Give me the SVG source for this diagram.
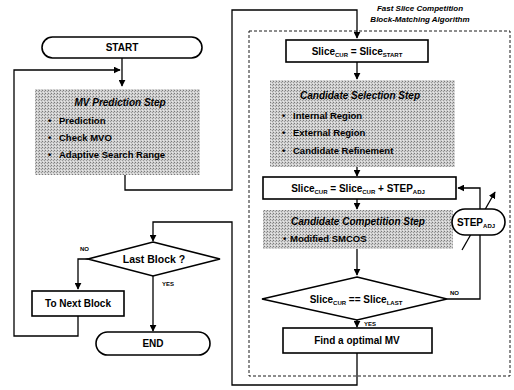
<svg xmlns="http://www.w3.org/2000/svg" width="514" height="390" viewBox="0 0 514 390">
<style>
text{font-family:"Liberation Sans",Arial,sans-serif;font-weight:bold;fill:#000}
.box{fill:#fff;stroke:#000;stroke-width:1.6}
.gray{stroke:none}
.ln{fill:none;stroke:#000;stroke-width:1.3}
.dash{fill:none;stroke:#000;stroke-width:0.9;stroke-dasharray:3 2}
.t{font-size:10px;text-anchor:middle}
.ti{font-size:10px;font-style:italic;text-anchor:middle}
.b{font-size:9.5px}
.s{font-size:6px}
.lbl{font-size:6px}
</style>
<defs>
<marker id="ah" viewBox="0 0 10 10" refX="9" refY="5" markerWidth="7" markerHeight="7" markerUnits="userSpaceOnUse" orient="auto"><path d="M0,0L10,5L0,10z" fill="#000"/></marker>
<pattern id="dots" width="3" height="3" patternUnits="userSpaceOnUse"><rect width="3" height="3" fill="#cfcfcf"/><rect x="0" y="0" width="1" height="1" fill="#7a7a7a"/><rect x="2" y="1" width="1" height="1" fill="#9a9a9a"/><rect x="1" y="2" width="1" height="1" fill="#e8e8e8"/></pattern>
</defs>

<rect class="dash" x="249" y="31" width="261" height="345"/>
<text class="ti" x="420" y="11" style="font-size:8px">Fast Slice Competition</text>
<text class="ti" x="420" y="22" style="font-size:8px">Block-Matching Algorithm</text>

<g id="connectors">
<path class="ln" d="M122,58V86" marker-end="url(#ah)"/>
<path class="ln" d="M78,316V336H14V70H120" marker-end="url(#ah)"/>
<path class="ln" d="M125,175V190H232V10H357V38" marker-end="url(#ah)"/>
<path class="ln" d="M357,62V79" marker-end="url(#ah)"/>
<path class="ln" d="M357,167V176" marker-end="url(#ah)"/>
<path class="ln" d="M357,199V209" marker-end="url(#ah)"/>
<path class="ln" d="M357,249V275" marker-end="url(#ah)"/>
<path class="ln" d="M357,320V327" marker-end="url(#ah)"/>
<path class="ln" d="M447,299H480V188H458" marker-end="url(#ah)"/>
<path class="ln" d="M462,250L495,192" marker-end="url(#ah)"/>
<path class="ln" d="M357,353V385H232V222H153V241" marker-end="url(#ah)"/>
<path class="ln" d="M88,259H78V289" marker-end="url(#ah)"/>
<path class="ln" d="M153,276V331" marker-end="url(#ah)"/>
<text class="lbl" x="80" y="251">NO</text>
<text class="lbl" x="162" y="286">YES</text>
<text class="lbl" x="450" y="295">NO</text>
<text class="lbl" x="364" y="326">YES</text>
</g>

<g id="start">
<rect class="box" x="42" y="37" width="160" height="21" rx="10.5"/>
<text class="t" x="122" y="51">START</text>
</g>

<g id="mv-prediction">
<rect class="gray" x="35" y="89" width="165" height="86" fill="url(#dots)"/>
<text class="ti" x="120" y="106">MV Prediction Step</text>
<text class="b" x="48" y="124">•<tspan x="59">Prediction</tspan></text>
<text class="b" x="48" y="141">•<tspan x="59">Check MVO</tspan></text>
<text class="b" x="48" y="158">•<tspan x="59">Adaptive Search Range</tspan></text>
</g>

<g id="last-block">
<path class="box" d="M153,242L220,259L153,276L88,259Z"/>
<text class="t" x="154" y="263" style="font-size:10.5px">Last Block ?</text>
</g>

<g id="next-block">
<rect class="box" x="32" y="291" width="92" height="25"/>
<text class="t" x="78" y="307">To Next Block</text>
</g>

<g id="end">
<rect class="box" x="96" y="332" width="114" height="23" rx="11.5"/>
<text class="t" x="153" y="347">END</text>
</g>

<g id="slice-start">
<rect class="box" x="286" y="40" width="142" height="22"/>
<text class="t" x="357" y="55">Slice<tspan class="s" dy="2">CUR</tspan><tspan dy="-2"> = Slice</tspan><tspan class="s" dy="2">START</tspan></text>
</g>

<g id="candidate-selection">
<rect class="gray" x="270" y="80" width="185" height="87" fill="url(#dots)"/>
<text class="ti" x="360" y="99">Candidate Selection Step</text>
<text class="b" x="282" y="119">•<tspan x="293">Internal Region</tspan></text>
<text class="b" x="282" y="136">•<tspan x="293">External Region</tspan></text>
<text class="b" x="282" y="154">•<tspan x="293">Candidate Refinement</tspan></text>
</g>

<g id="slice-step">
<rect class="box" x="263" y="177" width="193" height="22"/>
<text class="t" x="358" y="192">Slice<tspan class="s" dy="2">CUR</tspan><tspan dy="-2"> = Slice</tspan><tspan class="s" dy="2">CUR</tspan><tspan dy="-2"> + STEP</tspan><tspan class="s" dy="2">ADJ</tspan></text>
</g>

<g id="candidate-competition">
<rect class="gray" x="263" y="210" width="190" height="39" fill="url(#dots)"/>
<text class="ti" x="358" y="225">Candidate Competition Step</text>
<text class="b" x="283" y="242">•<tspan x="290">Modified SMCOS</tspan></text>
</g>

<g id="slice-last">
<path class="box" d="M357,277L447,299L357,320L262,299Z"/>
<text class="t" x="356" y="303">Slice<tspan class="s" dy="2">CUR</tspan><tspan dy="-2"> == Slice</tspan><tspan class="s" dy="2">LAST</tspan></text>
</g>

<g id="find-mv">
<rect class="box" x="283" y="328" width="149" height="25"/>
<text class="t" x="357" y="344">Find a optimal MV</text>
</g>

<g id="step-adj">
<rect class="box" x="452" y="209" width="53" height="26" rx="13"/>
<text class="t" x="476" y="226">STEP<tspan class="s" dy="2">ADJ</tspan></text>
</g>
</svg>
